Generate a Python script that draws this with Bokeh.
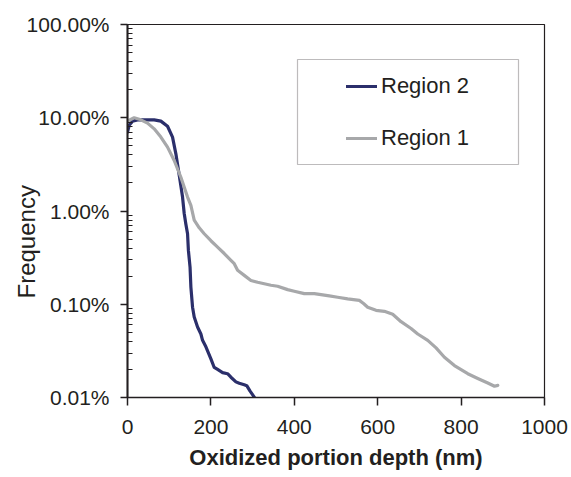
from bokeh.plotting import figure
from bokeh.models import (Range1d, Legend, LegendItem, BoxAnnotation, Title,
                          CustomJSTickFormatter, FixedTicker)
from bokeh.embed import file_html
from bokeh.resources import INLINE

# ---- data (depth in nm, frequency in %) ----
depth_region2 = [0, 4, 12, 24, 44, 64, 80, 96, 108, 116, 121, 126, 132, 136, 140, 144, 146,
                 150, 152, 156, 160, 168, 176, 180, 188, 200, 208, 216, 228, 240, 248, 260,
                 268, 280, 286, 294, 304, 312]
freq_region2 = [7.0, 8.3, 9.2, 9.5, 9.5, 9.5, 9.2, 8.1, 6.2, 4.1, 2.96, 2.13, 1.41, 0.94, 0.72,
                0.57, 0.38, 0.25, 0.153, 0.093, 0.073, 0.057, 0.048, 0.041, 0.035, 0.026, 0.021,
                0.020, 0.0185, 0.018, 0.0165, 0.0147, 0.0142, 0.0137, 0.0134, 0.0117, 0.0101,
                0.0085]

depth_region1 = [0, 16, 32, 48, 64, 80, 96, 112, 128, 144, 152, 160, 172, 184, 200, 216, 232,
                 248, 256, 264, 280, 296, 312, 328, 344, 360, 384, 400, 424, 448, 464, 484,
                 504, 528, 556, 566, 576, 596, 616, 636, 656, 680, 696, 720, 740, 760, 784,
                 816, 840, 864, 880, 888]
freq_region1 = [9.2, 10.0, 9.5, 8.75, 7.6, 6.2, 4.84, 3.48, 2.3, 1.41, 1.15, 0.80, 0.66, 0.57,
                0.48, 0.41, 0.35, 0.296, 0.272, 0.231, 0.204, 0.18, 0.172, 0.166, 0.16, 0.156,
                0.1435, 0.138, 0.13, 0.13, 0.127, 0.123, 0.119, 0.114, 0.110, 0.102, 0.093,
                0.086, 0.084, 0.078, 0.065, 0.055, 0.048, 0.041, 0.034, 0.027, 0.022, 0.018,
                0.016, 0.0143, 0.0132, 0.0135]

x_ticks = [0, 200, 400, 600, 800, 1000]
y_ticks = [0.01, 0.1, 1, 10, 100]
y_minor = [m * 10.0 ** e for e in range(-2, 2) for m in range(2, 10)]

series_names = ["Region 2", "Region 1"]
series_colors = ["#2b2f6b", "#a7a8aa"]

FONT = "Liberation Sans"
TXT = "#231f20"

p = figure(width=571, height=477, x_range=Range1d(0, 1000), y_range=Range1d(0.01, 100),
           y_axis_type="log", output_backend="svg", toolbar_location=None,
           min_border_left=127, min_border_right=27, min_border_top=24, min_border_bottom=80)

p.xgrid.visible = False
p.ygrid.visible = False
p.outline_line_color = TXT
p.outline_line_width = 1.2
p.background_fill_color = "white"
p.border_fill_color = "white"

r2 = p.line(depth_region2, freq_region2, line_color=series_colors[0], line_width=3.2,
            line_join="round", line_cap="round")
r1 = p.line(depth_region1, freq_region1, line_color=series_colors[1], line_width=3.2,
            line_join="round", line_cap="round")

# x axis
xa = p.xaxis[0]
xa.ticker = FixedTicker(ticks=x_ticks)
xa.major_tick_out = 8
xa.major_tick_in = 0
xa.minor_tick_out = 0
xa.minor_tick_in = 0
xa.axis_line_color = TXT
xa.axis_line_width = 1.5
xa.major_tick_line_color = TXT
xa.major_tick_line_width = 1.5
xa.major_label_text_font = FONT
xa.major_label_text_font_size = "21px"
xa.major_label_text_color = TXT
xa.major_label_standoff = 14
xa.axis_label = "Oxidized portion depth (nm)"
xa.axis_label_text_font = FONT
xa.axis_label_text_font_size = "22px"
xa.axis_label_text_font_style = "bold"
xa.axis_label_text_color = TXT
xa.axis_label_standoff = 8

# y axis
ya = p.yaxis[0]
ya.ticker = FixedTicker(ticks=y_ticks, minor_ticks=y_minor)
ya.formatter = CustomJSTickFormatter(code="return tick.toFixed(2) + '%';")
ya.major_tick_out = 7
ya.major_tick_in = 0
ya.minor_tick_out = 0
ya.minor_tick_in = 5
ya.axis_line_color = TXT
ya.axis_line_width = 2
ya.major_tick_line_color = TXT
ya.major_tick_line_width = 1.5
ya.minor_tick_line_color = TXT
ya.minor_tick_line_width = 1.2
ya.major_label_text_font = FONT
ya.major_label_text_font_size = "21px"
ya.major_label_text_color = TXT
ya.major_label_standoff = 11

# y-axis title as a side title (sits off-centre like the reference)
ytitle = Title(text="Frequency", align="left", offset=99, vertical_align="bottom",
               standoff=-32, text_font=FONT, text_font_size="24px",
               text_font_style="normal", text_color=TXT)
p.add_layout(ytitle, "left")

# legend frame
p.add_layout(BoxAnnotation(left=170, right=391, bottom=233, top=338,
                           left_units="screen", right_units="screen",
                           bottom_units="screen", top_units="screen",
                           fill_color="white", fill_alpha=1.0,
                           line_color=TXT, line_width=1.2))

legend = Legend(items=[LegendItem(label=series_names[0], renderers=[r2]),
                       LegendItem(label=series_names[1], renderers=[r1])],
                location=(219, 246), padding=0, spacing=26,
                glyph_width=31, glyph_height=26, label_height=26, label_standoff=4,
                label_text_font=FONT, label_text_font_size="22px", label_text_color=TXT,
                border_line_alpha=0, background_fill_alpha=0, margin=0)
p.add_layout(legend)

open("out.html", "w").write(file_html(p, INLINE))
